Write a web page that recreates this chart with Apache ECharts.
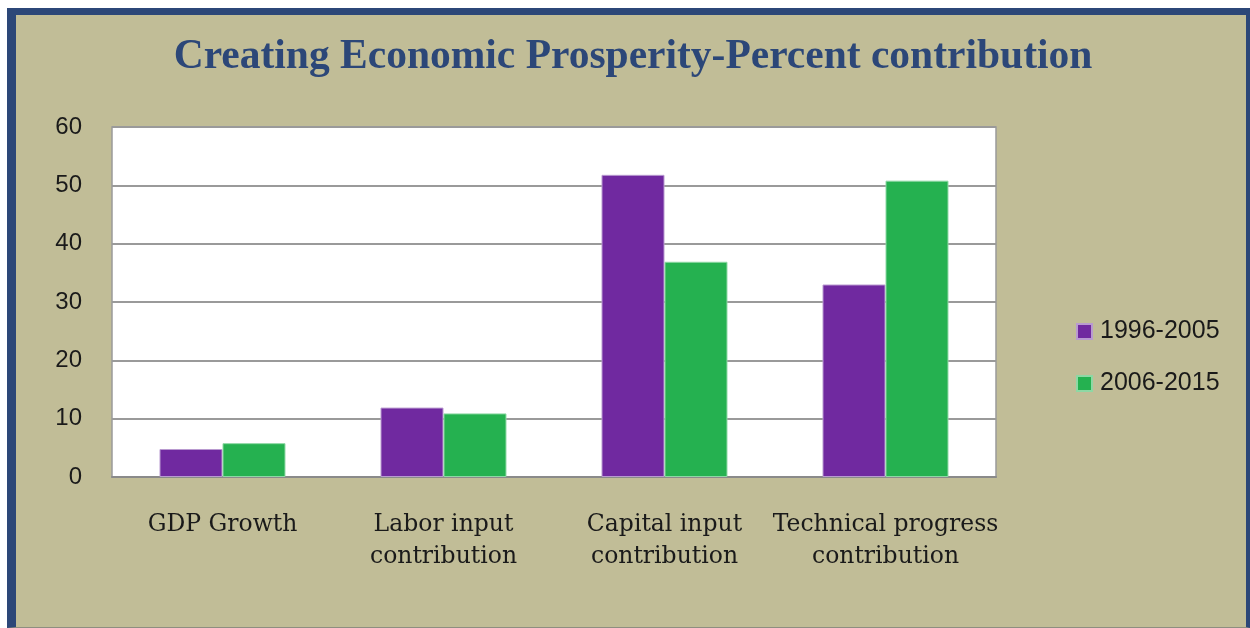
<!DOCTYPE html>
<html>
<head>
<meta charset="utf-8">
<script src="https://cdn.jsdelivr.net/npm/echarts@6/dist/echarts.min.js"></script>
<style>
  html, body { margin: 0; padding: 0; background: #ffffff; width: 1250px; height: 628px; overflow: hidden; }
  #frame { position: absolute; left: 7px; top: 8px; width: 1230px; height: 612px;
           background: #C1BD97; border-left: 9px solid #2C4778; border-top: 7px solid #2C4778;
           border-right: 4px solid #2C4778; border-bottom: 1px solid #8E8E80; }
  #chart { position: absolute; left: 0; top: 0; width: 1250px; height: 628px; }
</style>
</head>
<body>
<div id="frame"></div>
<div id="chart"></div>
<script>
const titleText = 'Creating Economic Prosperity-Percent contribution';
const categories = ['GDP Growth', 'Labor input\ncontribution', 'Capital input\ncontribution', 'Technical progress\ncontribution'];
const seriesNames = ['1996-2005', '2006-2015'];
const values1996_2005 = [4.8, 11.9, 51.8, 33.0];
const values2006_2015 = [5.8, 10.9, 36.9, 50.8];
const yTicks = { min: 0, max: 60, interval: 10 };

const chart = echarts.init(document.getElementById('chart'), null, { renderer: 'canvas' });
chart.setOption({
  backgroundColor: 'transparent',
  animation: false,
  title: {
    text: titleText,
    left: 633, top: 36, textAlign: 'center', padding: 0,
    textStyle: { fontFamily: 'Liberation Serif', fontWeight: 'bold', fontSize: 41.5, color: '#2C4778' }
  },
  legend: {
    orient: 'vertical',
    left: 1076, top: 319, padding: 0,
    itemWidth: 15, itemHeight: 15, itemGap: 27,
    icon: 'rect',
    textStyle: { fontFamily: 'Liberation Sans', fontSize: 25, color: '#1a1a1a', padding: [0, 0, 0, 3] },
    data: seriesNames
  },
  grid: {
    left: 112, right: 254, top: 127, bottom: 151,
    show: true, backgroundColor: '#ffffff', borderColor: '#9a9a9a', borderWidth: 1.5
  },
  xAxis: {
    type: 'category', data: categories,
    axisLine: { show: true, lineStyle: { color: '#8a8a8a', width: 2 } },
    axisTick: { show: false },
    axisLabel: { margin: 32, fontFamily: 'DejaVu Serif', fontSize: 23.5, color: '#1a1a1a', lineHeight: 32, interval: 0 }
  },
  yAxis: {
    type: 'value', min: yTicks.min, max: yTicks.max, interval: yTicks.interval,
    axisLine: { show: false }, axisTick: { show: false },
    splitLine: { lineStyle: { color: '#9a9a9a', width: 2 } },
    axisLabel: { margin: 30, fontFamily: 'Liberation Sans', fontSize: 24, color: '#1a1a1a' }
  },
  series: [
    { name: seriesNames[0], type: 'bar', data: values1996_2005, barGap: '0%', barCategoryGap: '43%',
      itemStyle: { color: '#7029A0', borderColor: '#B99AD0', borderWidth: 1 } },
    { name: seriesNames[1], type: 'bar', data: values2006_2015, barGap: '0%', barCategoryGap: '43%',
      itemStyle: { color: '#25B150', borderColor: '#8ED8A4', borderWidth: 1 } }
  ]
});
</script>
</body>
</html>
